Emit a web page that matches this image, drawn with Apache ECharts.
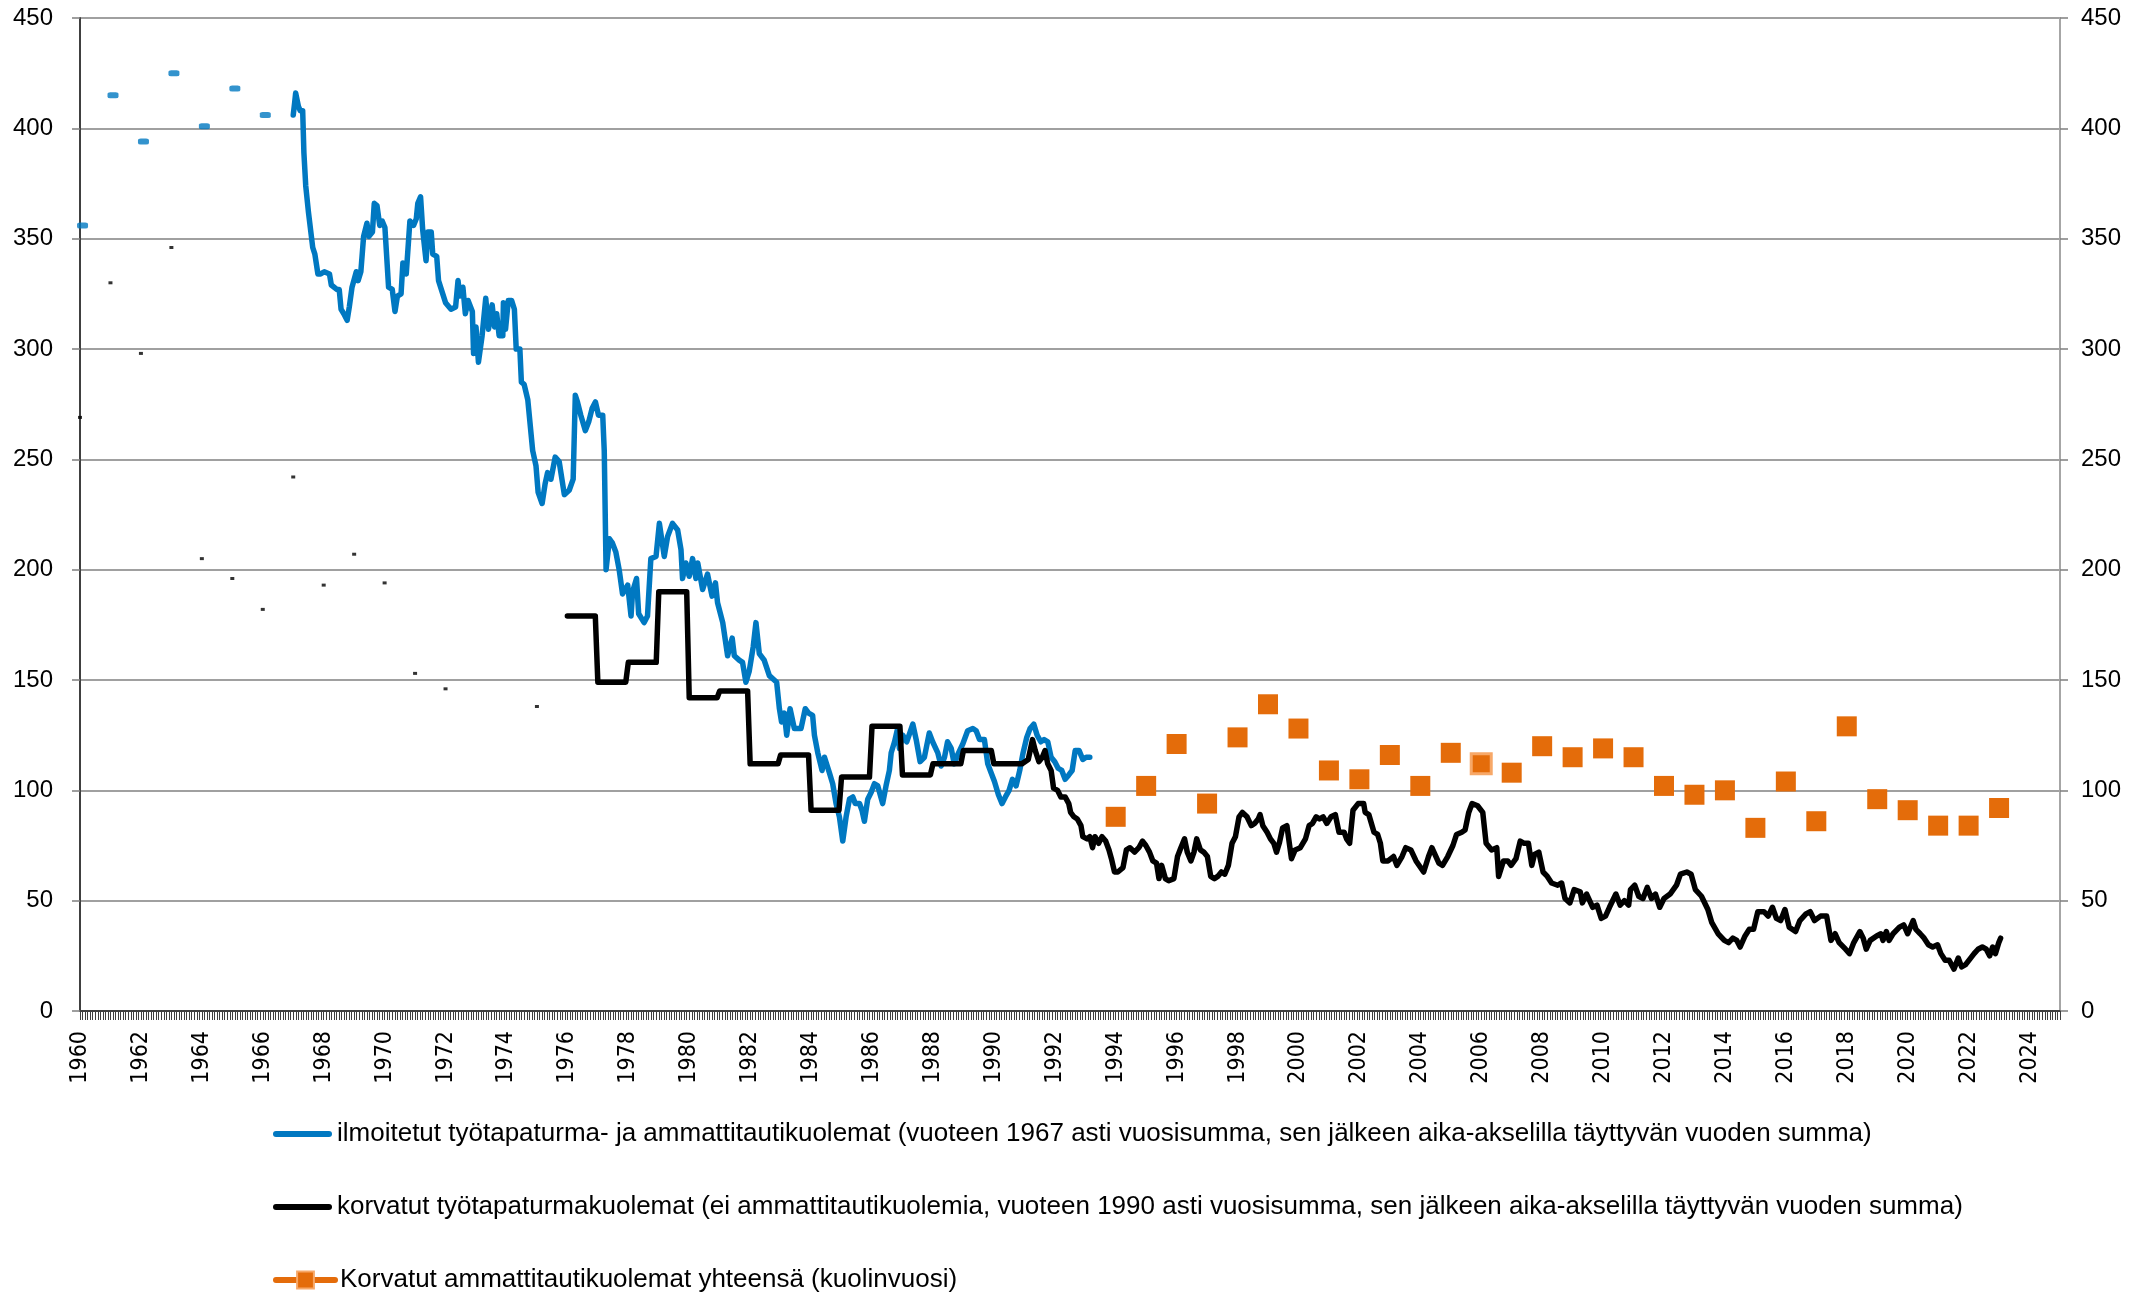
<!DOCTYPE html>
<html><head><meta charset="utf-8">
<script src="https://cdn.jsdelivr.net/npm/echarts@6/dist/echarts.min.js"></script>
<style>html,body{margin:0;padding:0;background:#fff}#chart{width:2149px;height:1295px}</style>
</head><body><div id="chart"></div>
<script>
// ---- DATA ----
const legendNames = [
  'ilmoitetut työtapaturma- ja ammattitautikuolemat (vuoteen 1967 asti vuosisumma, sen jälkeen aika-akselilla täyttyvän vuoden summa)',
  'korvatut työtapaturmakuolemat (ei ammattitautikuolemia, vuoteen 1990 asti vuosisumma, sen jälkeen aika-akselilla täyttyvän vuoden summa)',
  'Korvatut ammattitautikuolemat yhteensä (kuolinvuosi)'
];
// reported deaths, annual sums up to 1966
const blueAnnualYears  = [1960, 1961, 1962, 1963, 1964, 1965, 1966];
const blueAnnualValues = [356, 415, 394, 425, 401, 418, 406];
// compensated accident deaths, early annual values
const blackDotYears  = [1960, 1961, 1962, 1963, 1964, 1965, 1966, 1967, 1968, 1969, 1970, 1971, 1972, 1975];
const blackDotValues = [269, 330, 298, 346, 205, 196, 182, 242, 193, 207, 194, 153, 146, 138];
// reported deaths, rolling 12-month sum
const blueRollTimes = [1967.00,1967.05,1967.08,1967.17,1967.23,1967.31,1967.35,1967.41,1967.50,1967.64,1967.71,1967.81,1967.90,
 1968.02,1968.19,1968.25,1968.43,1968.51,1968.57,1968.66,1968.77,1968.84,1968.93,
 1969.07,1969.13,1969.22,1969.31,1969.42,1969.48,1969.60,1969.66,1969.75,1969.84,1969.92,
 1970.01,1970.13,1970.25,1970.34,1970.42,1970.54,1970.60,1970.71,1970.83,1970.95,
 1971.04,1971.09,1971.18,1971.25,1971.36,1971.42,1971.53,1971.58,1971.71,1971.77,
 1972.00,1972.18,1972.33,1972.41,1972.47,1972.57,1972.65,1972.74,1972.88,1972.92,
 1973.00,1973.08,1973.20,1973.32,1973.41,1973.53,1973.61,1973.68,1973.76,1973.88,1973.90,1973.97,
 1974.06,1974.17,1974.26,1974.32,1974.44,1974.49,1974.58,1974.70,1974.86,1974.97,
 1975.04,1975.17,1975.27,1975.35,1975.46,1975.60,1975.73,1975.90,
 1976.06,1976.19,1976.26,1976.33,1976.44,1976.59,1976.70,1976.81,1976.92,
 1977.02,1977.16,1977.21,1977.27,1977.38,1977.48,1977.59,1977.70,1977.81,1977.98,
 1978.09,1978.14,1978.27,1978.34,1978.52,1978.63,1978.74,1978.91,
 1979.02,1979.18,1979.29,1979.45,1979.62,1979.73,1979.78,1979.89,
 1980.00,1980.11,1980.22,1980.28,1980.44,1980.60,1980.75,1980.86,1980.93,
 1981.10,1981.26,1981.41,1981.48,1981.64,1981.75,1981.86,1981.97,
 1982.10,1982.19,1982.30,1982.46,1982.63,1982.79,1982.87,1982.96,
 1983.03,1983.12,1983.20,1983.31,1983.45,1983.67,1983.81,1983.92,
 1984.05,1984.11,1984.22,1984.36,1984.44,1984.60,1984.71,1984.82,1984.93,
 1985.04,1985.15,1985.26,1985.37,1985.45,1985.59,1985.67,1985.75,1985.86,1985.97,
 1986.08,1986.19,1986.35,1986.46,1986.57,1986.63,1986.74,1986.84,1986.90,
 1987.01,1987.14,1987.34,1987.45,1987.58,1987.72,1987.88,1987.99,
 1988.16,1988.27,1988.38,1988.48,1988.60,1988.70,1988.81,1988.98,
 1989.14,1989.31,1989.42,1989.53,1989.69,1989.80,1989.91,
 1990.02,1990.15,1990.27,1990.38,1990.50,1990.61,1990.73,1990.85,1990.96,
 1991.08,1991.19,1991.31,1991.42,1991.54,1991.65,1991.77,1991.88,
 1992.00,1992.11,1992.23,1992.34,1992.46,1992.57,1992.67,1992.80,1992.92,
 1993.03,1993.15];
const blueRollValues = [406,412,416,410,408,408,389,374,362,346,343,334,334,
 335,334,329,327,327,318,316,313,319,328,
 335,331,335,351,357,351,353,366,365,356,358,
 355,328,327,317,324,325,339,334,358,356,
 359,366,369,354,340,353,353,343,342,331,
 321,318,319,331,324,328,316,322,317,298,
 310,294,306,323,309,320,310,316,306,306,321,309,
 322,322,318,300,300,285,284,277,254,247,
 235,230,239,244,241,251,249,234,
 236,241,279,276,270,263,267,273,276,
 270,270,254,200,214,212,208,200,189,193,
 179,190,196,180,176,179,205,206,
 221,206,215,221,218,209,196,203,
 197,205,196,203,191,198,188,194,185,
 176,161,169,161,159,158,149,154,
 165,176,162,159,152,150,149,137,
 131,135,125,137,128,128,137,135,
 134,125,117,109,115,108,103,94,88,
 77,88,96,97,94,94,91,86,96,99,
 103,102,94,102,109,117,122,128,119,
 125,122,130,123,113,115,126,122,
 117,111,115,122,119,112,116,121,
 127,128,127,123,123,112,108,
 104,98,94,97,100,105,102,109,117,
 124,128,130,125,122,123,122,115,
 113,110,109,105,107,109,118,118,114,
 115,115];
// compensated accident deaths, annual sums 1976-1990 (shown as monthly steps)
const blackStepYears  = [1976,1977,1978,1979,1980,1981,1982,1983,1984,1985,1986,1987,1988,1989,1990];
const blackStepValues = [179, 149, 158, 190, 142, 145, 112, 116, 91, 106, 129, 107, 112, 118, 112];
// compensated accident deaths, rolling 12-month sum from 1991
const blackRollTimes = [1991.13,1991.27,1991.36,1991.48,1991.59,1991.68,1991.77,1991.88,1991.96,
 1992.09,1992.20,1992.34,1992.46,1992.52,1992.63,1992.74,1992.86,1992.92,
 1993.06,1993.15,1993.24,1993.32,1993.44,1993.55,1993.67,1993.78,1993.86,1993.96,
 1994.07,1994.24,1994.35,1994.47,1994.62,1994.76,1994.88,1994.99,
 1995.11,1995.22,1995.34,1995.42,1995.51,1995.63,1995.74,1995.91,
 1996.03,1996.14,1996.26,1996.35,1996.47,1996.57,1996.66,1996.78,1996.89,
 1997.01,1997.12,1997.24,1997.35,1997.47,1997.58,1997.70,1997.82,1997.93,
 1998.05,1998.16,1998.31,1998.45,1998.56,1998.68,1998.74,1998.83,1998.97,
 1999.08,1999.19,1999.28,1999.37,1999.48,1999.62,1999.77,1999.89,
 2000.06,2000.23,2000.35,2000.46,2000.58,2000.69,2000.81,2000.93,
 2001.07,2001.21,2001.33,2001.50,2001.58,2001.68,2001.79,2001.96,
 2002.14,2002.19,2002.31,2002.48,2002.60,2002.69,2002.77,2002.94,
 2003.12,2003.23,2003.40,2003.52,2003.69,2003.86,
 2004.11,2004.27,2004.38,2004.61,2004.73,2004.90,
 2005.07,2005.19,2005.36,2005.47,2005.59,2005.70,2005.88,
 2006.05,2006.16,2006.34,2006.51,2006.57,2006.73,2006.87,2006.98,
 2007.14,2007.28,2007.41,2007.55,2007.66,2007.75,2007.89,
 2008.03,2008.17,2008.31,2008.51,2008.64,2008.75,2008.91,
 2009.05,2009.25,2009.32,2009.46,2009.66,2009.80,2009.94,
 2010.08,2010.21,2010.42,2010.56,2010.70,2010.84,2010.90,
 2011.04,2011.17,2011.31,2011.45,2011.59,2011.72,2011.86,
 2012.00,2012.20,2012.41,2012.54,2012.75,2012.89,
 2013.03,2013.23,2013.44,2013.57,2013.78,2013.98,
 2014.12,2014.26,2014.39,2014.50,2014.66,2014.80,2014.94,
 2015.08,2015.28,2015.42,2015.56,2015.69,2015.83,2015.97,
 2016.11,2016.32,2016.46,2016.66,2016.80,2016.94,
 2017.14,2017.34,2017.48,2017.62,2017.75,2017.96,
 2018.09,2018.23,2018.43,2018.54,2018.64,2018.77,2018.98,
 2019.12,2019.19,2019.30,2019.39,2019.52,2019.73,2019.87,
 2020.00,2020.18,2020.27,2020.41,2020.54,2020.68,2020.82,2020.98,
 2021.09,2021.23,2021.36,2021.52,2021.66,2021.77,2021.90,
 2022.18,2022.31,2022.45,2022.58,2022.69,2022.79,2022.88,2022.99,2023.05];
const blackRollValues = [114,123,118,113,115,118,112,109,101,
 100,97,97,94,90,88,87,84,79,
 78,79,74,79,76,79,77,73,69,63,
 63,65,73,74,72,74,77,75,
 72,68,67,60,66,60,59,60,
 70,74,78,72,68,72,78,73,72,
 70,61,60,61,63,62,66,76,79,
 88,90,88,84,85,87,89,84,81,
 78,76,72,76,83,84,69,73,
 74,78,84,85,88,87,88,85,
 88,89,81,81,78,76,91,94,
 94,90,89,81,80,76,68,68,
 70,66,70,74,73,68,
 63,70,74,67,66,70,
 75,80,81,82,90,94,93,
 90,76,73,74,61,68,68,66,
 69,77,76,76,66,71,72,
 63,61,58,57,58,51,49,
 55,54,49,53,47,48,42,
 43,47,53,48,50,48,55,
 57,52,51,56,51,53,47,
 51,53,57,62,63,62,
 55,52,46,40,35,32,
 31,33,32,29,34,37,37,
 45,45,43,47,42,41,46,
 38,36,41,44,45,41,
 43,43,32,35,31,28,
 26,31,36,33,28,32,34,
 35,32,36,32,35,38,39,
 35,41,37,35,33,30,29,30,
 26,23,23,19,24,20,21,
 26,28,29,28,25,29,26,31,33];
// compensated occupational disease deaths (year of death)
const orangeYears  = [1994,1995,1996,1997,1998,1999,2000,2001,2002,2003,2004,2005,2006,2007,2008,2009,2010,2011,2012,2013,2014,2015,2016,2017,2018,2019,2020,2021,2022,2023];
const orangeValues = [88, 102, 121, 94, 124, 139, 128, 109, 105, 116, 102, 117, 112, 108, 120, 115, 119, 115, 102, 98, 100, 83, 104, 86, 129, 96, 91, 84, 84, 92];
const orangeHighlightYears = [2006];

// ---- BUILD ----
const BLUE = '#0078C1', ORANGE = '#E46C0A';
const blueRoll = blueRollTimes.map((t, i) => [t, blueRollValues[i]]);
const blueAnnual = blueAnnualYears.map((y, i) => [y + 1 / 12, blueAnnualValues[i]]);
const blackDots = blackDotYears.map((y, i) => [y, blackDotValues[i]]);
const blackData = [];
blackStepYears.forEach((y, i) => { for (let m = 0; m < 12; m++) blackData.push([y + m / 12, blackStepValues[i]]); });
blackRollTimes.forEach((t, i) => blackData.push([t, blackRollValues[i]]));
const orangeData = [];
orangeYears.forEach((y, i) => {
  const item = { value: [y, orangeValues[i]] };
  if (orangeHighlightYears.includes(y)) item.itemStyle = { borderColor: '#F7A868', borderWidth: 3 };
  orangeData.push(item);
  orangeData.push({ value: [y + 0.5, '-'] });
});

const BAR_ICON = 'path://M3,0H56A3,3,0,0,1,56,6H3A3,3,0,0,1,3,0Z';

const chart = echarts.init(document.getElementById('chart'), null, { renderer: 'canvas' });
const yAxisBase = {
  type: 'value', min: 0, max: 450, interval: 50,
  axisTick: { show: true, length: 8, lineStyle: { color: '#7f7f7f', width: 1.5 } }
};
const yLabel = { fontFamily: 'Liberation Sans', fontSize: 24, color: '#000' };
const legendRowTops = [1121, 1194, 1267];
const legendBase = {
  orient: 'horizontal', left: 273, padding: 0,
  itemWidth: 59, itemHeight: 21,
  textStyle: { fontFamily: 'Liberation Sans', fontSize: 26, color: '#000', padding: 0 }
};
chart.setOption({
  animation: false,
  backgroundColor: '#fff',
  grid: { left: 80, right: 89, top: 18, bottom: 284 },
  xAxis: {
    type: 'value', min: 1960, max: 2025, interval: 2,
    axisLine: { show: true, lineStyle: { color: '#404040', width: 2 } },
    axisTick: { show: true, length: 9, lineStyle: { color: '#404040', width: 1 } },
    minorTick: { show: true, splitNumber: 24, length: 9, lineStyle: { color: '#404040', width: 1 } },
    splitLine: { show: false },
    axisLabel: {
      rotate: 90, margin: 20, fontFamily: "'DejaVu Sans Condensed','DejaVu Sans'", fontSize: 23, color: '#000',
      formatter: v => (v % 2 === 0 && v <= 2024) ? String(v) : ''
    }
  },
  yAxis: [
    Object.assign({}, yAxisBase, {
      position: 'left',
      axisLabel: Object.assign({ margin: 27 }, yLabel),
      axisLine: { show: true, lineStyle: { color: '#404040', width: 2 } },
      splitLine: { show: true, lineStyle: { color: '#808080', width: 1.5 } }
    }),
    Object.assign({}, yAxisBase, {
      position: 'right',
      axisLabel: Object.assign({ margin: 21 }, yLabel),
      axisLine: { show: true, lineStyle: { color: '#a6a6a6', width: 2 } },
      splitLine: { show: false }
    })
  ],
  legend: [
    Object.assign({}, legendBase, { top: legendRowTops[0], data: [{ name: legendNames[0], icon: BAR_ICON }] }),
    Object.assign({}, legendBase, { top: legendRowTops[1], data: [{ name: legendNames[1], icon: BAR_ICON }] }),
    Object.assign({}, legendBase, { top: legendRowTops[2], data: [{ name: legendNames[2] }],
      lineStyle: { width: 6, cap: 'round', color: ORANGE },
      itemStyle: { color: ORANGE, borderColor: '#F7A868', borderWidth: 2 } })
  ],
  series: [
    { name: 'blueAnnual', type: 'scatter', data: blueAnnual, symbol: 'roundRect', symbolSize: [11, 6],
      itemStyle: { color: BLUE }, z: 2, silent: true },
    { name: 'blackDots', type: 'scatter', data: blackDots, symbol: 'rect', symbolSize: [4, 3],
      itemStyle: { color: '#000' }, z: 2, silent: true },
    { name: legendNames[0], type: 'line', data: blueRoll, showSymbol: false, symbol: 'none',
      lineStyle: { color: BLUE, width: 5.5, cap: 'round', join: 'round' }, itemStyle: { color: BLUE }, z: 3 },
    { name: legendNames[1], type: 'line', data: blackData, showSymbol: false, symbol: 'none',
      lineStyle: { color: '#000', width: 5.5, cap: 'round', join: 'round' }, itemStyle: { color: '#000' }, z: 4 },
    { name: legendNames[2], type: 'line', data: orangeData, connectNulls: false, showAllSymbol: true,
      symbol: 'rect', symbolSize: 20, lineStyle: { color: ORANGE, width: 6, cap: 'round' }, itemStyle: { color: ORANGE }, z: 5 }
  ]
});
</script></body></html>
